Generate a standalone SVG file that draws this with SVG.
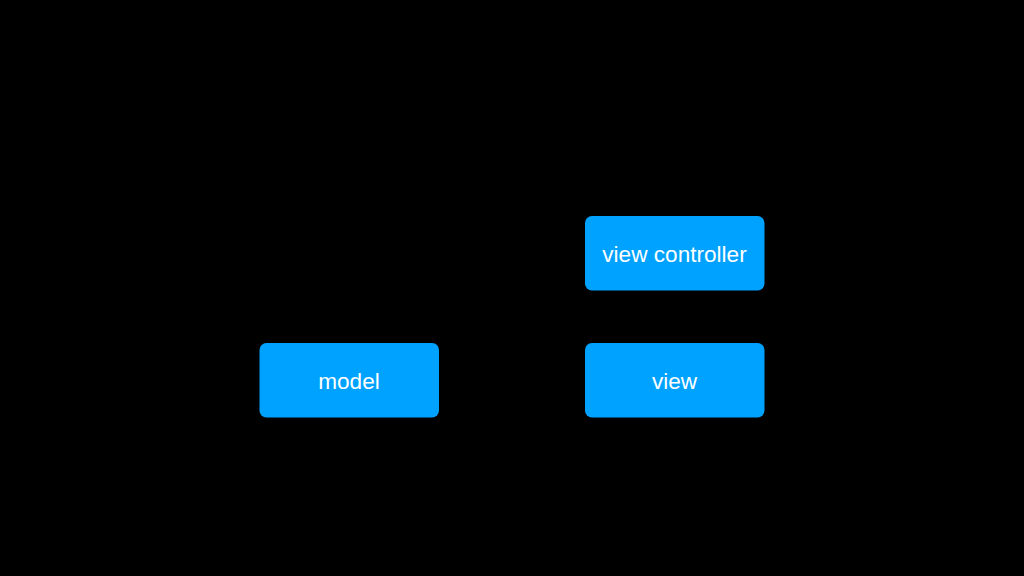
<svg xmlns="http://www.w3.org/2000/svg" width="1024" height="576" viewBox="0 0 1024 576">
<style>
.box{fill:#00A2FF}
.lbl{font-family:"Liberation Sans",Arial,sans-serif;font-size:22.6px;fill:#FFFFFF;text-anchor:middle}
</style>
<rect width="1024" height="576" fill="#000000"/>
<g id="connectors"></g>
<g id="view-controller">
<rect class="box" x="585" y="216" width="179.5" height="74.5" rx="7"/>
<text class="lbl" x="674.5" y="262">view controller</text>
</g>
<g id="model">
<rect class="box" x="259.5" y="343" width="179.5" height="74.5" rx="7"/>
<text class="lbl" x="349" y="389">model</text>
</g>
<g id="view">
<rect class="box" x="585" y="343" width="179.5" height="74.5" rx="7"/>
<text class="lbl" x="674.5" y="389">view</text>
</g>
</svg>
